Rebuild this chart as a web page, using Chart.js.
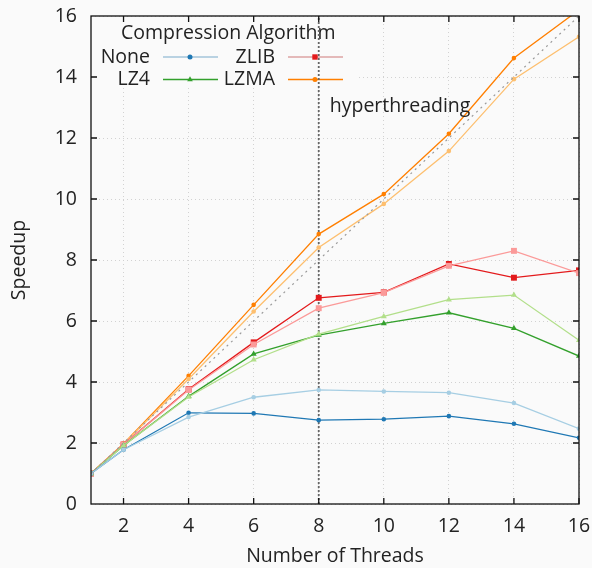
<!DOCTYPE html>
<html>
<head>
<meta charset="utf-8">
<script src="https://cdn.jsdelivr.net/npm/chart.js@4/dist/chart.umd.min.js"></script>
<style>
  html, body { margin: 0; padding: 0; background: #fafafa; }
  #wrap { width: 592px; height: 568px; }
</style>
</head>
<body>
<div id="wrap"><canvas id="chart" width="592" height="568"></canvas></div>
<script>
  const threads = [1, 2, 4, 6, 8, 10, 12, 14, 16];
  const xTicks = [2, 4, 6, 8, 10, 12, 14, 16];

  const noneA = [1, 1.78, 2.99, 2.97, 2.75, 2.78, 2.88, 2.63, 2.17];
  const noneB = [1, 1.78, 2.85, 3.50, 3.74, 3.69, 3.65, 3.31, 2.47];
  const zlibA = [1, 1.95, 3.76, 5.30, 6.76, 6.94, 7.87, 7.42, 7.66];
  const zlibB = [1, 1.95, 3.74, 5.23, 6.42, 6.93, 7.81, 8.30, 7.57];
  const lz4A = [1, 1.92, 3.53, 4.92, 5.54, 5.92, 6.27, 5.76, 4.85];
  const lz4B = [1, 1.92, 3.51, 4.73, 5.57, 6.15, 6.70, 6.85, 5.37];
  const lzmaA = [1, 1.98, 4.20, 6.53, 8.85, 10.16, 12.14, 14.62, 16.2];
  const lzmaB = [1, 1.97, 4.10, 6.31, 8.41, 9.84, 11.57, 13.93, 15.32];

  const idealX = [1, 16];
  const idealY = [1, 16];
  const htX = 8;

  const FONT = '"Open Sans", "Noto Sans", sans-serif';
  const FSIZE = 19.5;
  const BG = '#fafafa';

  function pts(ys) {
    return ys.map((y, i) => ({ x: threads[i], y }));
  }

  function series(label, ys, color, shape, radius) {
    return {
      label,
      data: pts(ys),
      borderColor: color,
      backgroundColor: color,
      borderWidth: 1.3,
      pointStyle: shape,
      pointRadius: radius,
      pointBorderWidth: 0,
      pointHoverRadius: radius,
    };
  }

  const legendItems = [
    { label: 'None', line: '#a3c4da', mark: '#1f78b4', shape: 'circle', col: 0, row: 0 },
    { label: 'ZLIB', line: '#dca3a3', mark: '#e31a1c', shape: 'rect', col: 1, row: 0 },
    { label: 'LZ4', line: '#33a02c', mark: '#33a02c', shape: 'triangle', col: 0, row: 1 },
    { label: 'LZMA', line: '#ff7f00', mark: '#ff7f00', shape: 'circle', col: 1, row: 1 },
  ];

  const framePlugin = {
    id: 'frame',
    beforeDatasetsDraw(chart) {
      const { ctx, chartArea: a } = chart;
      ctx.save();
      // legend box
      ctx.fillStyle = BG;
      ctx.fillRect(a.left + 2, a.top + 2, 264, 70);
      ctx.fillStyle = '#222';
      ctx.font = FSIZE + 'px ' + FONT;
      ctx.textBaseline = 'middle';
      ctx.textAlign = 'left';
      ctx.fillText('Compression Algorithm', 121, 33);
      legendItems.forEach(it => {
        const y = 57 + it.row * 22.5;
        const tx = it.col === 0 ? 150 : 275;
        const lx = it.col === 0 ? 163 : 288;
        ctx.textAlign = 'right';
        ctx.fillStyle = '#222';
        ctx.fillText(it.label, tx, y);
        ctx.strokeStyle = it.line;
        ctx.lineWidth = 1.5;
        ctx.beginPath();
        ctx.moveTo(lx, y);
        ctx.lineTo(lx + 55, y);
        ctx.stroke();
        ctx.fillStyle = it.mark;
        const r = it.shape === 'circle' ? 2.5 : it.shape === 'rect' ? 3.8 : 3.3;
        Chart.helpers.drawPoint(ctx, { pointStyle: it.shape, radius: r, borderWidth: 0 }, lx + 27, y);
      });
      ctx.restore();
    },
    afterDraw(chart) {
      const { ctx, chartArea: a, scales } = chart;
      ctx.save();
      ctx.strokeStyle = '#111';
      ctx.lineWidth = 1.3;
      ctx.strokeRect(a.left, a.top, a.right - a.left, a.bottom - a.top);
      ctx.beginPath();
      xTicks.forEach(v => {
        const x = scales.x.getPixelForValue(v);
        ctx.moveTo(x, a.bottom); ctx.lineTo(x, a.bottom - 6);
        ctx.moveTo(x, a.top); ctx.lineTo(x, a.top + 6);
      });
      for (let v = 2; v < 16; v += 2) {
        const y = scales.y.getPixelForValue(v);
        ctx.moveTo(a.left, y); ctx.lineTo(a.left + 6, y);
        ctx.moveTo(a.right, y); ctx.lineTo(a.right - 6, y);
      }
      ctx.stroke();
      ctx.fillStyle = '#222';
      ctx.font = FSIZE + 'px ' + FONT;
      ctx.textAlign = 'left';
      ctx.textBaseline = 'middle';
      ctx.fillText('hyperthreading', scales.x.getPixelForValue(htX) + 11, 106);
      ctx.restore();
    },
  };

  new Chart(document.getElementById('chart').getContext('2d'), {
    type: 'line',
    data: {
      datasets: [
        {
          label: 'ideal',
          data: idealX.map((x, i) => ({ x, y: idealY[i] })),
          borderColor: '#9a9a9a',
          borderWidth: 1.2,
          borderDash: [2, 4],
          pointRadius: 0,
        },
        series('None', noneB, '#a6cee3', 'circle', 2.3),
        series('None', noneA, '#1f78b4', 'circle', 2.3),
        series('LZ4', lz4B, '#b2df8a', 'triangle', 3.5),
        series('LZ4', lz4A, '#33a02c', 'triangle', 3.5),
        series('ZLIB', zlibB, '#fb9a99', 'rect', 4.2),
        series('ZLIB', zlibA, '#e31a1c', 'rect', 4.2),
        series('LZMA', lzmaB, '#fdbf6f', 'circle', 2.3),
        series('LZMA', lzmaA, '#ff7f00', 'circle', 2.3),
        {
          label: 'hyperthreading',
          data: [{ x: htX, y: 0 }, { x: htX, y: 16 }],
          borderColor: '#666',
          borderWidth: 1.8,
          borderDash: [2, 2],
          pointRadius: 0,
        },
      ],
    },
    options: {
      responsive: false,
      animation: false,
      events: [],
      layout: { padding: { top: 16, right: 13, left: 0, bottom: 0 } },
      plugins: {
        legend: { display: false },
        tooltip: { enabled: false },
      },
      scales: {
        x: {
          type: 'linear',
          min: 1,
          max: 16,
          afterBuildTicks: scale => { scale.ticks = xTicks.map(v => ({ value: v })); },
          afterFit: scale => { scale.height = 64; scale.paddingLeft = 0; scale.paddingRight = 0; },
          border: { display: false, dash: [1, 3] },
          grid: { color: '#d2d2d2', lineWidth: 1, drawTicks: false },
          ticks: { color: '#222', font: { family: FONT, size: FSIZE }, padding: 11, maxRotation: 0 },
          title: { display: true, text: 'Number of Threads', color: '#222', font: { family: FONT, size: FSIZE }, padding: { top: 2, bottom: 0 } },
        },
        y: {
          min: 0,
          max: 16,
          afterFit: scale => { scale.width = 91; scale.paddingTop = 0; scale.paddingBottom = 0; },
          border: { display: false, dash: [1, 3] },
          grid: { color: '#d2d2d2', lineWidth: 1, drawTicks: false },
          ticks: { stepSize: 2, color: '#222', font: { family: FONT, size: FSIZE }, padding: 14 },
          title: { display: true, text: 'Speedup', color: '#222', font: { family: FONT, size: FSIZE }, padding: { top: 8, bottom: 0 } },
        },
      },
    },
    plugins: [framePlugin],
  });
</script>
</body>
</html>
